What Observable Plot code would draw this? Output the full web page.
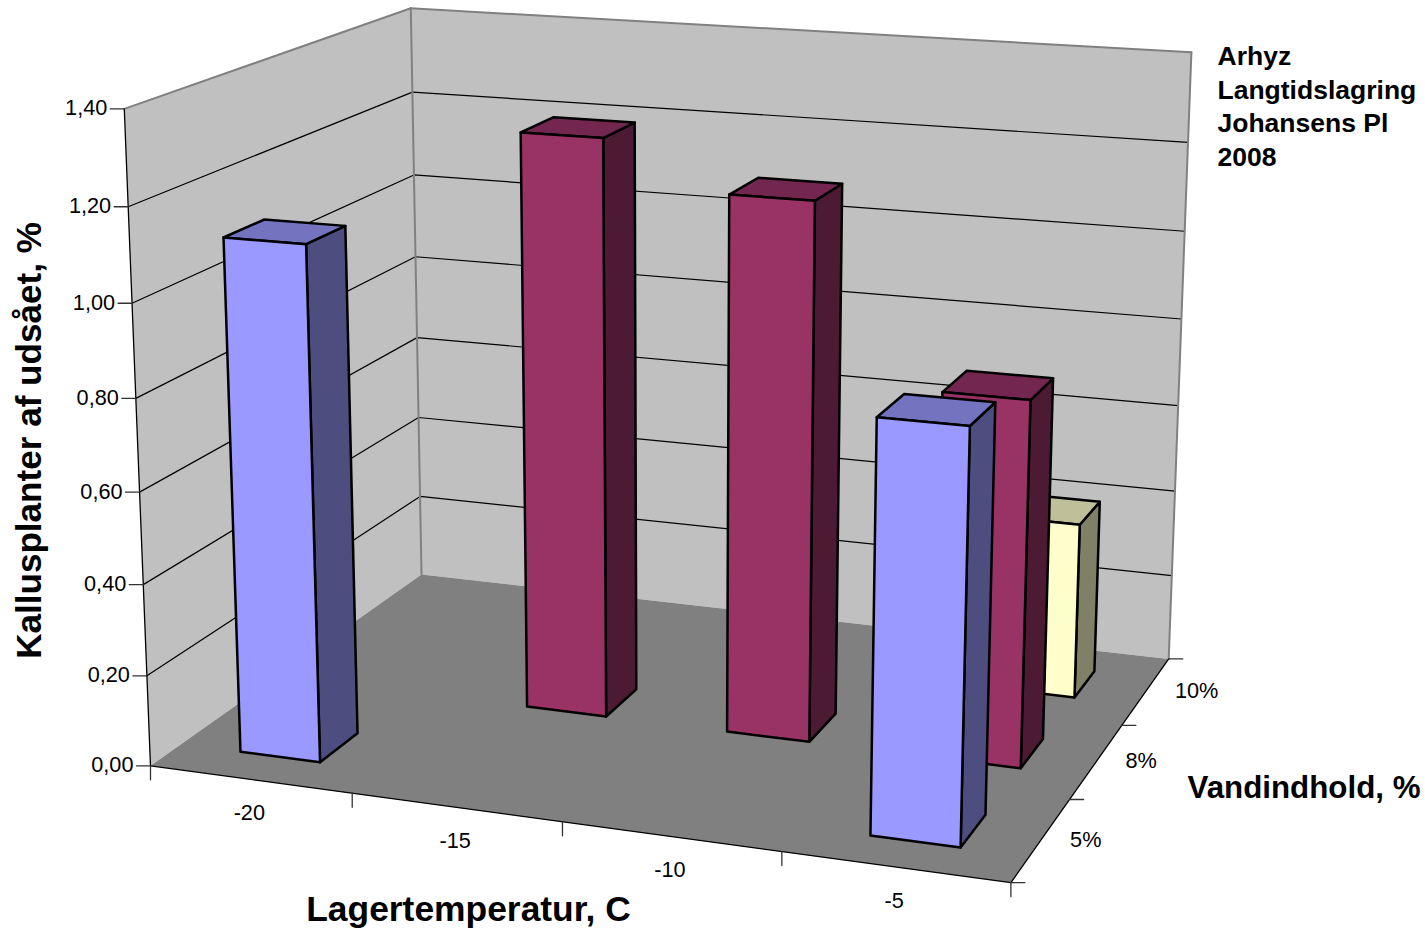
<!DOCTYPE html>
<html><head><meta charset="utf-8">
<style>html,body{margin:0;padding:0;background:#fff}svg{display:block}</style>
<script src="https://cdn.jsdelivr.net/npm/d3@7"></script>
<script src="https://cdn.jsdelivr.net/npm/@observablehq/plot@0.6"></script>
</head><body><div id="chart"></div>
<script>
// ---------- data ----------
const temperatures = ["-20", "-15", "-10", "-5"];
const moistures = ["5%", "8%", "10%"];
const values5 = [1.118, null, null, 0.866];
const values8 = [null, 1.283, 1.182, 0.80];
const values10 = [null, null, null, 0.40];
const series = [values5, values8, values10];
const yTicks = [0, 0.2, 0.4, 0.6, 0.8, 1.0, 1.2, 1.4];
const titleLines = ["Arhyz", "Langtidslagring", "Johansens Pl", "2008"];
const frontColors = ["#9999FF", "#993366", "#FFFFCC"];
const sideColors = ["#4D4D80", "#4D1A33", "#808066"];
const topColors = ["#7373BF", "#732650", "#BFBF99"];
const yMax = 1.4;

// ---------- camera: perspective fit on the box corners and axis ticks ----------
const anchors = [
  [0,0,0,150,765],[0,1,0,421,574],[1,1,0,1168,658],[1,0,0,1010,882],
  [0,0,1,124,108],[0,1,1,410,8],[1,1,1,1191,52],
  [.25,0,0,352,793],[.5,0,0,562,822],[.75,0,0,781,851],
  [1,1/3,0,1069,799],[1,2/3,0,1122,725]
];
function solve(A,b){const n=b.length;const M=A.map((r,i)=>[...r,b[i]]);
  for(let c=0;c<n;c++){let p=c;for(let r=c+1;r<n;r++)if(Math.abs(M[r][c])>Math.abs(M[p][c]))p=r;
    [M[c],M[p]]=[M[p],M[c]];
    for(let r=0;r<n;r++)if(r!==c){const f=M[r][c]/M[c][c];for(let k=c;k<=n;k++)M[r][k]-=f*M[c][k];}}
  return M.map((r,i)=>r[n]/r[i]);}
const rows=[],rhs=[];
for(const [u,v,w,x,y] of anchors){
  rows.push([u,v,w,1,0,0,0,0,-x*u,-x*v,-x*w]);rhs.push(x);
  rows.push([0,0,0,0,u,v,w,1,-y*u,-y*v,-y*w]);rhs.push(y);
}
const ata=d3.range(11).map(i=>d3.range(11).map(j=>d3.sum(rows,r=>r[i]*r[j])));
const atb=d3.range(11).map(i=>d3.sum(rows,(r,k)=>r[i]*rhs[k]));
const m=solve(ata,atb);
function P(u,v,w){const d=m[8]*u+m[9]*v+m[10]*w+1;
  return [(m[0]*u+m[1]*v+m[2]*w+m[3])/d,(m[4]*u+m[5]*v+m[6]*w+m[7])/d];}

// ---------- build geometry rows ----------
const poly=[],edges=[],grid=[],ticks=[];
function addPoly(id,pts,fill){[...pts,pts[0]].forEach(p=>{const [px,py]=P(...p);poly.push({id,px,py,fill});});}
function addLine(list,id,a,b){const A=P(...a),B=P(...b);
  list.push({id,px:A[0],py:A[1]},{id,px:B[0],py:B[1]});}

const walls=[];
function addWall(id,pts,fill){[...pts,pts[0]].forEach(p=>{const [px,py]=P(...p);walls.push({id,px,py,fill});});}
addWall("left",[[0,0,0],[0,1,0],[0,1,1],[0,0,1]],"#C0C0C0");
addWall("back",[[0,1,0],[1,1,0],[1,1,1],[0,1,1]],"#C0C0C0");
addWall("floor",[[0,0,0],[1,0,0],[1,1,0],[0,1,0]],"#808080");

yTicks.forEach((t,i)=>{ if(t===0||t===yMax) return; const w=t/yMax;
  const A=P(0,0,w),B=P(0,1,w),C=P(1,1,w);
  [A,B,C].forEach(q=>grid.push({id:i,px:q[0],py:q[1]}));
});
const greyEdges=[];
addLine(greyEdges,"a",[0,0,1],[0,1,1]);
addLine(greyEdges,"b",[0,1,1],[1,1,1]);
addLine(greyEdges,"c",[0,1,0],[0,1,1]);
addLine(greyEdges,"d",[1,1,0],[1,1,1]);
addLine(edges,"e",[0,0,0],[0,0,1]);
addLine(edges,"f",[0,0,0],[1,0,0]);
addLine(edges,"g",[1,0,0],[1,1,0]);

yTicks.forEach((t,i)=>{const q=P(0,0,t/yMax);ticks.push({id:"y"+i,px:q[0],py:q[1]},{id:"y"+i,px:q[0]-14,py:q[1]});});
d3.range(temperatures.length+1).forEach(i=>{const q=P(i/temperatures.length,0,0);ticks.push({id:"x"+i,px:q[0],py:q[1]},{id:"x"+i,px:q[0],py:q[1]+14});});
d3.range(moistures.length+1).forEach(i=>{const q=P(1,i/moistures.length,0);ticks.push({id:"z"+i,px:q[0],py:q[1]},{id:"z"+i,px:q[0]+14,py:q[1]});});

const nU=temperatures.length,nV=moistures.length,lo=0.3,hi=0.7;
for(let j=nV-1;j>=0;j--){
  series[j].forEach((val,i)=>{
    if(val==null) return;
    const u0=(i+lo)/nU,u1=(i+hi)/nU,v0=(j+lo)/nV,v1=(j+hi)/nV,w=val/yMax,id=`${j}-${i}`;
    addPoly(id+"s",[[u1,v0,0],[u1,v1,0],[u1,v1,w],[u1,v0,w]],sideColors[j]);
    addPoly(id+"t",[[u0,v0,w],[u1,v0,w],[u1,v1,w],[u0,v1,w]],topColors[j]);
    addPoly(id+"f",[[u0,v0,0],[u1,v0,0],[u1,v0,w],[u0,v0,w]],frontColors[j]);
  });
}

const yLabels=yTicks.map(t=>{const q=P(0,0,t/yMax);return {px:q[0]-17,py:q[1]-0.5,t:t.toFixed(2).replace(".",",")};});
const xLabels=temperatures.map((t,i)=>{const q=P((i+.5)/nU,0,0);return {px:q[0]-1,py:q[1]+34,t};});
const zLabels=moistures.map((t,j)=>{const q=P(1,(j+.5)/nV,0);return {px:q[0]+29,py:q[1],t};});
const titleRows=titleLines.map((t,i)=>({t,i}));

const font="Liberation Sans";
const chart=Plot.plot({
  width:1425,height:930,margin:0,
  x:{domain:[0,1425],range:[0,1425],axis:null},
  y:{domain:[0,930],range:[0,930],axis:null},
  color:{type:"identity"},
  style:{background:"#fff"},
  marks:[
    Plot.line(walls,{x:"px",y:"py",z:"id",fill:"fill",stroke:"none"}),
    Plot.line(grid,{x:"px",y:"py",z:"id",stroke:"#000",strokeWidth:1.2}),
    Plot.line(greyEdges,{x:"px",y:"py",z:"id",stroke:"#808080",strokeWidth:2}),
    Plot.line(edges,{x:"px",y:"py",z:"id",stroke:"#000",strokeWidth:1.3}),
    Plot.line(ticks,{x:"px",y:"py",z:"id",stroke:"#333",strokeWidth:1.3}),
    Plot.line(poly,{x:"px",y:"py",z:"id",fill:"fill",stroke:"#000",strokeWidth:2.5}),
    Plot.text(yLabels,{x:"px",y:"py",text:"t",textAnchor:"end",fontSize:21.7,fontFamily:font,fill:"#000"}),
    Plot.text(xLabels,{x:"px",y:"py",text:"t",fontSize:21.7,fontFamily:font,fill:"#000"}),
    Plot.text(zLabels,{x:"px",y:"py",text:"t",textAnchor:"start",fontSize:21.7,fontFamily:font,fill:"#000"}),
    Plot.text(["Lagertemperatur, C"],{x:()=>468,y:()=>909,text:d=>d,fontSize:35.4,fontWeight:"bold",fontFamily:font,fill:"#000"}),
    Plot.text(["Vandindhold, %"],{x:()=>1187,y:()=>787,text:d=>d,textAnchor:"start",fontSize:31.3,fontWeight:"bold",fontFamily:font,fill:"#000"}),
    Plot.text(["Kallusplanter af udsået, %"],{x:()=>29,y:()=>440,text:d=>d,rotate:-90,fontSize:35.1,fontWeight:"bold",fontFamily:font,fill:"#000"}),
    Plot.text(titleRows,{x:()=>1217,y:d=>56+d.i*33.7,text:"t",textAnchor:"start",fontSize:26.5,fontWeight:"bold",fontFamily:font,fill:"#000"})
  ]
});
document.getElementById("chart").append(chart);
</script></body></html>
